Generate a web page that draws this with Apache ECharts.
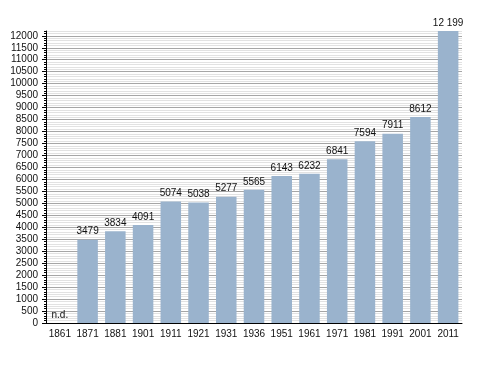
<!DOCTYPE html>
<html>
<head>
<meta charset="utf-8">
<script src="https://cdn.jsdelivr.net/npm/echarts@6/dist/echarts.min.js"></script>
<style>html,body{margin:0;padding:0;background:#fff}#c{width:488px;height:373px}</style>
</head>
<body>
<div id="c"></div>
<script>
var years = ['1861','1871','1881','1901','1911','1921','1931','1936','1951','1961','1971','1981','1991','2001','2011'];
var population = [0, 3479, 3834, 4091, 5074, 5038, 5277, 5565, 6143, 6232, 6841, 7594, 7911, 8612, 12199];
var missingLabel = 'n.d.';
var yMajorTicks = [0,500,1000,1500,2000,2500,3000,3500,4000,4500,5000,5500,6000,6500,7000,7500,8000,8500,9000,9500,10000,10500,11000,11500,12000];
var yMax = 12200;

function fmt(v, i) {
  if (i === 0) return missingLabel;
  var s = String(v);
  if (v >= 10000) s = s.slice(0, s.length - 3) + ' ' + s.slice(s.length - 3);
  return s;
}

var chart = echarts.init(document.getElementById('c'), null, {renderer: 'canvas'});
var font = 'Liberation Sans, Arial, sans-serif';
chart.setOption({
  animation: false,
  backgroundColor: '#fff',
  grid: {left: 46, right: 26, top: 31, bottom: 50, containLabel: false},
  xAxis: {
    type: 'category',
    data: years,
    z: 1,
    axisLine: {lineStyle: {color: '#000', width: 1}},
    axisTick: {show: false},
    axisLabel: {color: '#111', fontSize: 10, fontFamily: font, margin: 6, interval: 0},
    splitLine: {show: false}
  },
  yAxis: [{
    type: 'value', min: 0, max: yMax, interval: 500, z: 1,
    axisLine: {show: true, lineStyle: {color: '#000'}},
    axisTick: {show: true, length: 4, lineStyle: {color: '#000'}, customValues: yMajorTicks},
    axisLabel: {color: '#111', fontSize: 10, fontFamily: font, margin: 8, customValues: yMajorTicks,
      formatter: function (v) { return String(v); }},
    splitLine: {show: true, lineStyle: {color: '#a6a6a6', width: 1}}
  }, {
    type: 'value', min: 0, max: yMax, interval: 100, position: 'left', offset: 0, z: 0,
    axisLine: {show: false},
    axisTick: {show: true, length: 2, lineStyle: {color: '#000'}},
    axisLabel: {show: false},
    splitLine: {show: true, lineStyle: {color: '#e2e2e2', width: 1}}
  }],
  series: [{
    type: 'bar',
    data: population,
    yAxisIndex: 0,
    z: 5,
    barCategoryGap: '26%',
    itemStyle: {color: '#9ab3cd'},
    label: {
      show: true, position: 'top', distance: 3,
      color: '#111', fontSize: 10, fontFamily: font,
      formatter: function (p) { return fmt(p.value, p.dataIndex); }
    }
  }]
});
</script>
</body>
</html>
